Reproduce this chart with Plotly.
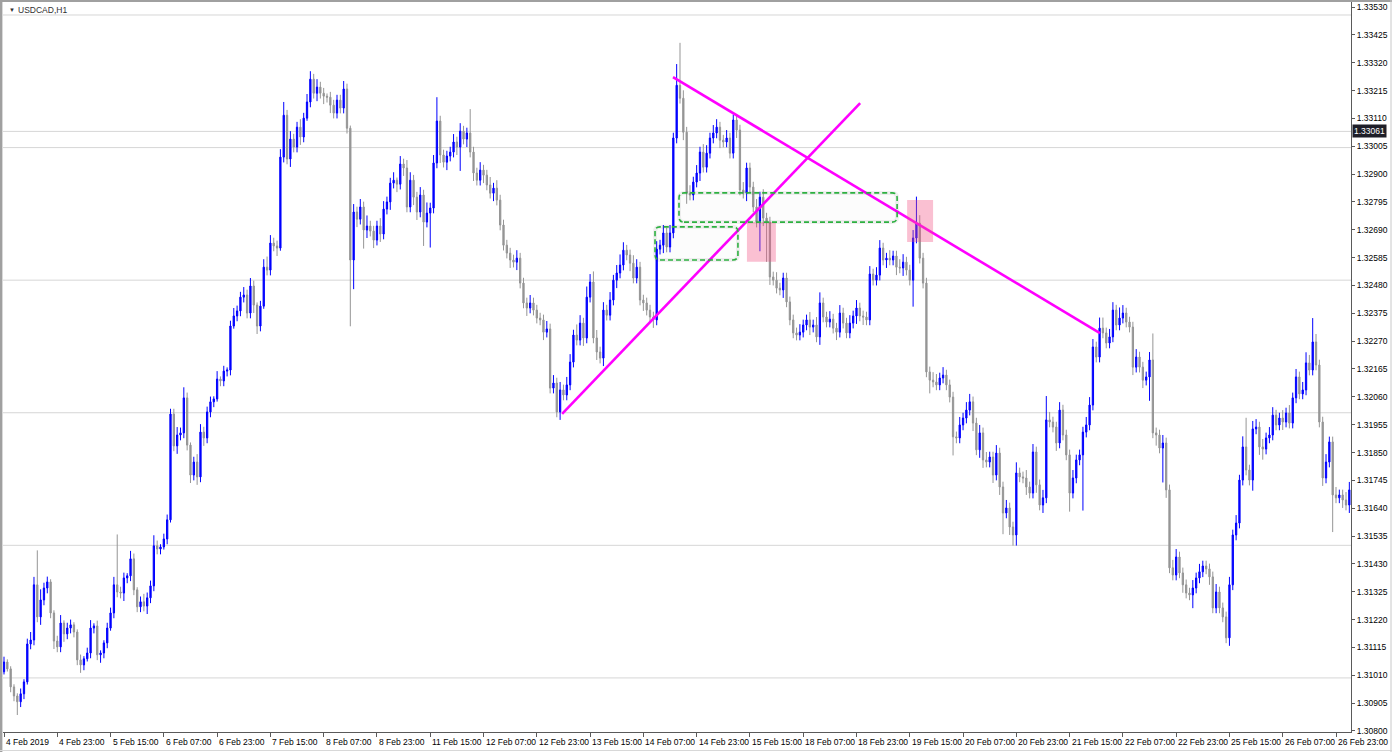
import plotly.graph_objects as go

# ---------------- data (USDCAD H1) ----------------
first_open = 1.31023
close = [
    1.31060, 1.31034, 1.30966, 1.30932, 1.30910, 1.30940, 1.30985, 1.31128, 1.31143, 1.31351,
    1.31230, 1.31294, 1.31339, 1.31362, 1.31245, 1.31139, 1.31117, 1.31207, 1.31166, 1.31188,
    1.31200, 1.31173, 1.31068, 1.31049, 1.31072, 1.31094, 1.31188, 1.31196, 1.31087, 1.31094,
    1.31132, 1.31188, 1.31245, 1.31351, 1.31324, 1.31320, 1.31377, 1.31385, 1.31449, 1.31332,
    1.31268, 1.31287, 1.31271, 1.31302, 1.31347, 1.31498, 1.31486, 1.31494, 1.31524, 1.31596,
    1.31995, 1.31875, 1.31916, 1.31924, 1.32056, 1.31878, 1.31765, 1.31814, 1.31758, 1.31927,
    1.31905, 1.32003, 1.32041, 1.32052, 1.32127, 1.32120, 1.32157, 1.32161, 1.32327, 1.32365,
    1.32384, 1.32436, 1.32444, 1.32376, 1.32478, 1.32406, 1.32327, 1.32402, 1.32549, 1.32538,
    1.32640, 1.32629, 1.32621, 1.32964, 1.33122, 1.32957, 1.33032, 1.33002, 1.33077, 1.33040,
    1.33111, 1.33172, 1.33258, 1.33205, 1.33228, 1.33205, 1.33194, 1.33190, 1.33160, 1.33130,
    1.33179, 1.33149, 1.33221, 1.33073, 1.32576, 1.32757, 1.32730, 1.32776, 1.32689, 1.32704,
    1.32685, 1.32651, 1.32704, 1.32674, 1.32768, 1.32795, 1.32866, 1.32877, 1.32862, 1.32938,
    1.32923, 1.32776, 1.32877, 1.32813, 1.32757, 1.32821, 1.32719, 1.32753, 1.32772, 1.32942,
    1.33100, 1.32972, 1.32945, 1.32968, 1.32983, 1.33021, 1.33002, 1.33062, 1.33032, 1.33055,
    1.32983, 1.32904, 1.32877, 1.32915, 1.32896, 1.32859, 1.32828, 1.32847, 1.32802, 1.32708,
    1.32632, 1.32602, 1.32576, 1.32568, 1.32583, 1.32489, 1.32414, 1.32395, 1.32414, 1.32387,
    1.32357, 1.32350, 1.32304, 1.32316, 1.32093, 1.32112, 1.32003, 1.32086, 1.32067, 1.32105,
    1.32191, 1.32293, 1.32274, 1.32338, 1.32282, 1.32436, 1.32493, 1.32282, 1.32229, 1.32206,
    1.32387, 1.32368, 1.32425, 1.32500, 1.32527, 1.32557, 1.32613, 1.32595, 1.32564, 1.32508,
    1.32549, 1.32425, 1.32414, 1.32387, 1.32361, 1.32350, 1.32617, 1.32632, 1.32678, 1.32625,
    1.32678, 1.33036, 1.33235, 1.33186, 1.33058, 1.32828, 1.32821, 1.32870, 1.32904, 1.32983,
    1.32926, 1.32979, 1.33036, 1.33055, 1.33077, 1.33028, 1.33021, 1.33036, 1.32979, 1.33104,
    1.33066, 1.32840, 1.32828, 1.32923, 1.32851, 1.32776, 1.32719, 1.32813, 1.32734, 1.32719,
    1.32512, 1.32500, 1.32470, 1.32463, 1.32508, 1.32418, 1.32350, 1.32301, 1.32293, 1.32304,
    1.32331, 1.32350, 1.32323, 1.32331, 1.32286, 1.32414, 1.32361, 1.32342, 1.32353, 1.32319,
    1.32304, 1.32376, 1.32338, 1.32301, 1.32338, 1.32365, 1.32395, 1.32365, 1.32361, 1.32350,
    1.32523, 1.32500, 1.32519, 1.32621, 1.32576, 1.32583, 1.32576, 1.32591, 1.32549, 1.32546,
    1.32568, 1.32538, 1.32500, 1.32659, 1.32715, 1.32583, 1.32489, 1.32154, 1.32123, 1.32116,
    1.32105, 1.32131, 1.32142, 1.32105, 1.32059, 1.31909, 1.31905, 1.31954, 1.31980, 1.32010,
    1.32041, 1.31961, 1.31860, 1.31924, 1.31822, 1.31814, 1.31833, 1.31765, 1.31848, 1.31720,
    1.31622, 1.31641, 1.31569, 1.31539, 1.31773, 1.31758, 1.31754, 1.31720, 1.31697, 1.31852,
    1.31728, 1.31652, 1.31679, 1.31973, 1.31965, 1.31946, 1.31886, 1.32010, 1.31916, 1.31841,
    1.31697, 1.31754, 1.31822, 1.31841, 1.31927, 1.31954, 1.32029, 1.32248, 1.32210, 1.32319,
    1.32301, 1.32263, 1.32286, 1.32387, 1.32331, 1.32357, 1.32376, 1.32342, 1.32323, 1.32172,
    1.32210, 1.32172, 1.32123, 1.32135, 1.32199, 1.31924, 1.31916, 1.31867, 1.31886, 1.31709,
    1.31415, 1.31388, 1.31456, 1.31396, 1.31351, 1.31320, 1.31313, 1.31339, 1.31377, 1.31400,
    1.31422, 1.31411, 1.31381, 1.31264, 1.31324, 1.31264, 1.31230, 1.31151, 1.31351, 1.31539,
    1.31584, 1.31746, 1.31871, 1.31784, 1.31746, 1.31939, 1.31946, 1.31871, 1.31863, 1.31905,
    1.31916, 1.31991, 1.31954, 1.31980, 1.31965, 1.31999, 1.31961, 1.32056, 1.32135, 1.32071,
    1.32086, 1.32188, 1.32161, 1.32267, 1.32180, 1.31965, 1.31754, 1.31814, 1.31890, 1.31690,
    1.31679, 1.31690, 1.31671, 1.31652, 1.31709,
]
# wick lengths in pips (0.0001) above the body top and below the body bottom
upper_wick_pips = [
    2, 1, 1, 1, 1, 2, 1, 2, 3, 3,   13, 4, 2, 2, 1, 1, 2, 3, 1, 2,
    2, 1, 1, 2, 1, 2, 3, 1, 2, 1,   1, 2, 2, 3, 19, 2, 2, 1, 3, 2,
    1, 2, 3, 2, 2, 4, 2, 1, 2, 2,   2, 2, 3, 2, 4, 2, 1, 2, 3, 3,
    2, 2, 2, 1, 3, 1, 2, 1, 2, 3,   2, 2, 3, 2, 3, 2, 1, 2, 3, 4,
    3, 2, 2, 3, 5, 2, 3, 2, 2, 3,   2, 3, 3, 2, 3, 2, 2, 1, 2, 2,
    2, 2, 3, 2, 1, 3, 2, 3, 2, 4,   2, 2, 2, 3, 3, 2, 2, 3, 1, 3,
    2, 3, 3, 2, 2, 3, 2, 4, 2, 3,   9, 2, 2, 2, 2, 3, 2, 3, 2, 2,
    9, 2, 2, 3, 2, 2, 3, 2, 3, 2,   2, 2, 2, 2, 3, 2, 2, 2, 3, 2,
    2, 2, 2, 3, 2, 3, 2, 3, 2, 3,   3, 2, 4, 3, 2, 4, 3, 4, 3, 2,
    3, 2, 3, 2, 3, 4, 3, 2, 2, 3,   3, 2, 2, 2, 2, 2, 3, 2, 3, 2,
    3, 2, 8, 16, 3, 2, 3, 2, 3, 2,  3, 3, 2, 3, 3, 2, 2, 3, 2, 2,
    2, 2, 3, 2, 2, 2, 3, 2, 3, 2,   2, 2, 3, 2, 2, 2, 2, 2, 2, 3,
    2, 2, 3, 2, 3, 4, 2, 2, 3, 2,   2, 3, 2, 2, 3, 2, 3, 2, 2, 2,
    3, 2, 3, 3, 2, 2, 3, 2, 2, 3,   3, 2, 2, 3, 10, 3, 2, 2, 2, 3,
    3, 2, 3, 2, 2, 2, 2, 3, 2, 3,   3, 2, 2, 3, 2, 3, 2, 2, 3, 2,
    2, 3, 2, 2, 4, 2, 2, 3, 2, 3,   2, 2, 3, 9, 3, 2, 2, 3, 2, 2,
    2, 3, 2, 2, 2, 3, 3, 3, 2, 4,   4, 2, 3, 3, 2, 4, 3, 2, 2, 2,
    3, 2, 2, 2, 3, 10, 2, 2, 3, 2,  2, 3, 3, 2, 2, 2, 2, 3, 2, 3,
    2, 2, 2, 2, 3, 2, 2, 2, 3, 2,   3, 2, 4, 11, 2, 3, 3, 2, 3, 2,
    3, 3, 2, 2, 3, 2, 3, 2, 3, 2,   3, 4, 3, 9, 3, 2, 2, 3, 2, 2,
    3, 2, 2, 3, 3,
]
lower_wick_pips = [
    1, 1, 2, 2, 5, 2, 2, 1, 2, 2,   2, 3, 2, 2, 2, 3, 2, 2, 3, 2,
    2, 2, 2, 3, 2, 1, 2, 2, 2, 3,   2, 2, 1, 2, 2, 2, 3, 2, 2, 2,
    2, 2, 2, 3, 2, 2, 2, 2, 1, 2,   1, 2, 3, 2, 2, 2, 3, 2, 3, 2,
    3, 2, 2, 2, 1, 2, 2, 2, 2, 1,   2, 2, 2, 2, 2, 3, 3, 2, 1, 2,
    2, 2, 3, 1, 2, 2, 3, 2, 2, 3,   2, 1, 2, 2, 3, 2, 3, 2, 3, 2,
    2, 2, 2, 2, 25, 11, 3, 2, 7, 3, 2, 3, 2, 3, 2, 2, 3, 2, 3, 2,
    3, 2, 2, 3, 3, 2, 9, 2, 13, 2,  2, 3, 2, 3, 2, 2, 3, 9, 2, 3,
    2, 3, 2, 2, 3, 2, 2, 3, 2, 2,   2, 2, 3, 2, 3, 2, 2, 3, 2, 2,
    2, 2, 3, 2, 2, 2, 2, 3, 2, 2,   2, 2, 2, 2, 3, 2, 2, 2, 3, 2,
    3, 2, 2, 2, 3, 2, 2, 2, 3, 2,   2, 2, 3, 2, 2, 3, 2, 2, 3, 2,
    2, 2, 2, 2, 3, 4, 2, 2, 2, 3,   2, 2, 2, 2, 2, 3, 2, 2, 2, 2,
    3, 2, 2, 3, 2, 2, 2, 11, 3, 15, 3, 2, 2, 2, 3, 2, 2, 2, 2, 2,
    2, 2, 3, 2, 2, 3, 2, 2, 2, 2,   3, 2, 2, 2, 2, 2, 3, 2, 3, 2,
    2, 2, 2, 2, 2, 3, 2, 2, 3, 2,   3, 2, 2, 10, 2, 2, 2, 2, 5, 2,
    2, 2, 2, 2, 2, 7, 2, 2, 2, 2,   2, 3, 2, 3, 3, 2, 2, 3, 2, 3,
    8, 2, 3, 4, 4, 2, 2, 3, 2, 2,   3, 2, 3, 2, 2, 2, 3, 2, 2, 2,
    7, 2, 2, 2, 21, 2, 2, 2, 2, 2,  2, 2, 2, 2, 2, 2, 2, 2, 2, 3,
    2, 2, 3, 2, 9, 2, 4, 2, 13, 3,  2, 2, 2, 2, 3, 2, 2, 5, 2, 2,
    2, 2, 3, 2, 2, 2, 2, 2, 3, 2,   2, 2, 2, 2, 2, 4, 2, 3, 4, 2,
    2, 2, 2, 2, 3, 2, 2, 2, 2, 2,   2, 2, 2, 2, 2, 2, 3, 2, 2, 14,
    2, 2, 3, 2, 3,
]

x_tick_bars = [0, 16, 32, 48, 64, 80, 96, 112, 128, 144, 160, 176, 192,
               208, 224, 240, 256, 272, 288, 304, 320, 336, 352, 368, 384, 400]
x_tick_labels = ["4 Feb 2019", "4 Feb 23:00", "5 Feb 15:00", "6 Feb 07:00", "6 Feb 23:00",
                 "7 Feb 15:00", "8 Feb 07:00", "8 Feb 23:00", "11 Feb 15:00", "12 Feb 07:00",
                 "12 Feb 23:00", "13 Feb 15:00", "14 Feb 07:00", "14 Feb 23:00", "15 Feb 15:00",
                 "18 Feb 07:00", "18 Feb 23:00", "19 Feb 15:00", "20 Feb 07:00", "20 Feb 23:00",
                 "21 Feb 15:00", "22 Feb 07:00", "22 Feb 23:00", "25 Feb 15:00", "26 Feb 07:00",
                 "26 Feb 23:00"]
y_tick_values = [1.30800, 1.30905, 1.31010, 1.31115, 1.31220, 1.31325, 1.31430, 1.31535,
                 1.31640, 1.31745, 1.31850, 1.31955, 1.32060, 1.32165, 1.32270, 1.32375,
                 1.32480, 1.32585, 1.32690, 1.32795, 1.32900, 1.33005, 1.33110, 1.33215,
                 1.33320, 1.33425, 1.33530]
y_tick_labels = ["1.30800", "1.30905", "1.31010", "1.31115", "1.31220", "1.31325", "1.31430",
                 "1.31535", "1.31640", "1.31745", "1.31850", "1.31955", "1.32060", "1.32165",
                 "1.32270", "1.32375", "1.32480", "1.32585", "1.32690", "1.32795", "1.32900",
                 "1.33005", "1.33110", "1.33215", "1.33320", "1.33425", "1.33530"]

horizontal_levels = [1.3350, 1.33061, 1.3300, 1.3250, 1.3200, 1.3150, 1.3100]
marked_level = 1.33061
marked_level_text = "1.33061"

# drawn objects: (bar index, price) anchors
uptrend_bars, uptrend_prices = [167.6, 257.1], [1.31996, 1.33168]
downtrend_bars, downtrend_prices = [200.9, 329.1], [1.33266, 1.32300]
green_zones = [(195.5, 220.4, 1.32576, 1.32701), (202.7, 268.2, 1.32719, 1.32829)]
pink_zones = [(223.1, 231.8, 1.32569, 1.32719), (271.2, 279.0, 1.32644, 1.32802)]

symbol_title = "USDCAD,H1"

# ---------------- build OHLC ----------------
opens = [first_open] + close[:-1]
highs = [max(o, c) + u * 0.0001 for o, c, u in zip(opens, close, upper_wick_pips)]
lows = [min(o, c) - d * 0.0001 for o, c, d in zip(opens, close, lower_wick_pips)]
bars = list(range(len(close)))

# ---------------- geometry ----------------
FW, FH = 1392, 752
ML, MR, MT, MB = 3, 41, 2, 20
PW, PH = FW - ML - MR, FH - MT - MB


def pxx(px):
    return (px - ML) / PW


def pxy(py):
    return 1 - (py - MT) / PH


FONT = "Liberation Sans, Arial, sans-serif"

fig = go.Figure()

fig.add_trace(go.Candlestick(
    x=bars, open=opens, high=highs, low=lows, close=close,
    increasing=dict(line=dict(color="#0000FF", width=1), fillcolor="#0000FF"),
    decreasing=dict(line=dict(color="#959595", width=1), fillcolor="#959595"),
    whiskerwidth=0, hoverinfo="skip", showlegend=False,
))

for xs, ys in [(uptrend_bars, uptrend_prices), (downtrend_bars, downtrend_prices)]:
    fig.add_trace(go.Scatter(x=xs, y=ys, mode="lines",
                             line=dict(color="#FF00FF", width=2.6),
                             hoverinfo="skip", showlegend=False))

shapes = []
for lv in horizontal_levels:
    shapes.append(dict(type="line", xref="paper", x0=0, x1=1, yref="y", y0=lv, y1=lv,
                       line=dict(color="#D6D6D6", width=1), layer="below"))


def rounded_path(x0, x1, y0, y1, rx, ry):
    return (f"M {x0 + rx},{y0} L {x1 - rx},{y0} Q {x1},{y0} {x1},{y0 + ry} "
            f"L {x1},{y1 - ry} Q {x1},{y1} {x1 - rx},{y1} L {x0 + rx},{y1} "
            f"Q {x0},{y1} {x0},{y1 - ry} L {x0},{y0 + ry} Q {x0},{y0} {x0 + rx},{y0} Z")


for (x0, x1, y0, y1) in pink_zones:
    shapes.append(dict(type="rect", xref="x", yref="y", x0=x0, x1=x1, y0=y0, y1=y1,
                       fillcolor="rgba(240,80,130,0.36)", line=dict(width=0), layer="above"))

for (x0, x1, y0, y1) in green_zones:
    p = rounded_path(x0, x1, y0, y1, 1.5, 0.00019)
    shapes.append(dict(type="path", xref="x", yref="y", path=p,
                       fillcolor="rgba(0,0,0,0.012)",
                       line=dict(color="rgba(0,0,0,0.06)", width=4), layer="above"))
    shapes.append(dict(type="path", xref="x", yref="y", path=p,
                       line=dict(color="#2DB040", width=1.6, dash="5px,3px"), layer="above"))

# window frame
frame = "#A0A0A0"
shapes.append(dict(type="rect", xref="paper", yref="paper", x0=pxx(0), x1=pxx(FW),
                   y0=pxy(MT), y1=pxy(0), fillcolor=frame, line=dict(width=0), layer="above"))
shapes.append(dict(type="rect", xref="paper", yref="paper", x0=pxx(0), x1=pxx(2.4),
                   y0=pxy(FH), y1=pxy(0), fillcolor=frame, line=dict(width=0), layer="above"))
shapes.append(dict(type="line", xref="paper", yref="paper", x0=pxx(FW - 1), x1=pxx(FW - 1),
                   y0=pxy(FH), y1=pxy(0), line=dict(color="#C8C8C8", width=1)))
shapes.append(dict(type="line", xref="paper", yref="paper", x0=pxx(0), x1=pxx(FW),
                   y0=pxy(FH - 1.5), y1=pxy(FH - 1.5), line=dict(color="#D8D8D8", width=1)))

annotations = []
for b, t in zip(x_tick_bars, x_tick_labels):
    annotations.append(dict(x=b, xref="x", y=0, yref="paper", text=t, showarrow=False,
                             xanchor="left", yanchor="top", xshift=0, yshift=-3,
                             font=dict(family=FONT, size=8.5, color="#000000")))

annotations.append(dict(x=1, xref="paper", y=marked_level, yref="y", text=marked_level_text,
                        showarrow=False, xanchor="left", yanchor="middle", xshift=1,
                        bgcolor="#1E1E28", borderpad=1,
                        font=dict(family=FONT, size=8.5, color="#FFFFFF")))
annotations.append(dict(x=pxx(7), xref="paper", y=pxy(10), yref="paper", text="▼",
                        showarrow=False, xanchor="left", yanchor="middle",
                        font=dict(family=FONT, size=6, color="#303030")))
annotations.append(dict(x=pxx(16), xref="paper", y=pxy(10), yref="paper", text=symbol_title,
                        showarrow=False, xanchor="left", yanchor="middle",
                        font=dict(family=FONT, size=8.5, color="#303030")))

fig.update_layout(
    width=FW, height=FH,
    margin=dict(l=ML, r=MR, t=MT, b=MB, pad=0),
    paper_bgcolor="#FFFFFF", plot_bgcolor="#FFFFFF",
    boxgap=0.45,
    showlegend=False,
    shapes=shapes, annotations=annotations,
    font=dict(family=FONT, size=8.5, color="#000000"),
    xaxis=dict(range=[-0.3, 404.5], rangeslider=dict(visible=False), showgrid=False,
               zeroline=False, showline=True, linecolor="#5A5A5A", linewidth=1,
               tickmode="array", tickvals=x_tick_bars, ticks="outside", ticklen=4,
               tickcolor="#5A5A5A", showticklabels=False, fixedrange=True),
    yaxis=dict(range=[1.30796, 1.33549], side="right", showgrid=False, zeroline=False,
               showline=True, linecolor="#5A5A5A", linewidth=1,
               tickmode="array", tickvals=y_tick_values, ticktext=y_tick_labels,
               ticks="outside", ticklen=3, tickcolor="#5A5A5A",
               tickfont=dict(family=FONT, size=8.5, color="#000000"), fixedrange=True),
)

fig.write_html("out.html", config={"displayModeBar": False},
               post_script="document.body.style.margin='0px';"
                           "document.body.style.overflow='hidden';")
